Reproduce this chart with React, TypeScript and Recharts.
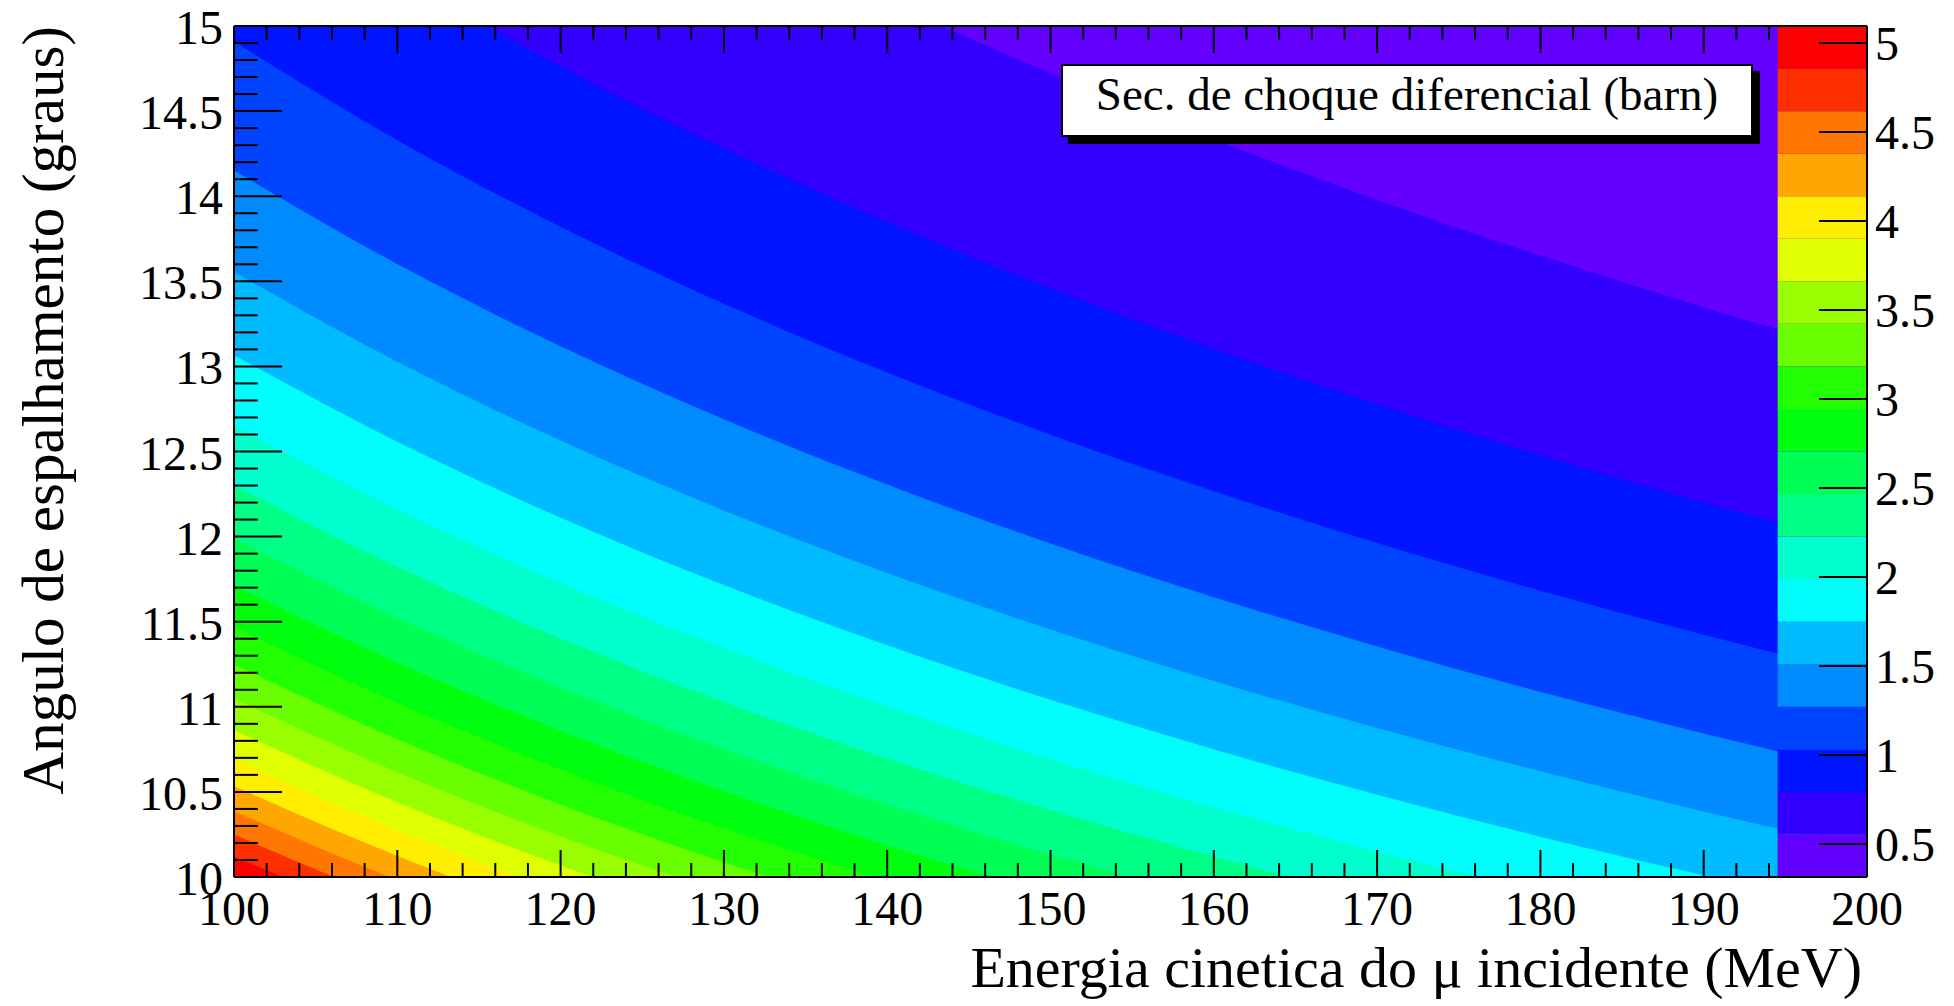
import React from "react";
import {
  ComposedChart,
  Area,
  XAxis,
  YAxis,
  CartesianGrid,
  ReferenceArea,
  Label,
} from "recharts";

// kinetic energy (MeV) where each contour line was read
const energies = [100, 110, 120, 130, 140, 150, 160, 170, 180, 190, 200];

// scattering angle (deg) of each contour boundary, lowest level first
const iso01 = [17.422, 16.744, 16.149, 15.621, 15.149, 14.722, 14.334, 13.978, 13.651, 13.348, 13.066];
const iso02 = [15.926, 15.306, 14.762, 14.28, 13.848, 13.457, 13.103, 12.777, 12.478, 12.201, 11.944];
const iso03 = [14.909, 14.329, 13.82, 13.368, 12.964, 12.599, 12.267, 11.962, 11.682, 11.423, 11.182];
const iso04 = [14.152, 13.601, 13.118, 12.689, 12.306, 11.959, 11.644, 11.355, 11.088, 10.843, 10.614];
const iso05 = [13.555, 13.027, 12.564, 12.154, 11.786, 11.454, 11.152, 10.875, 10.621, 10.385, 10.166];
const iso06 = [13.066, 12.557, 12.111, 11.715, 11.361, 11.041, 10.75, 10.483, 10.237, 10.01, 9.799];
const iso07 = [12.654, 12.161, 11.729, 11.346, 11.003, 10.693, 10.411, 10.152, 9.914, 9.695, 9.49];
const iso08 = [12.3, 11.821, 11.401, 11.028, 10.695, 10.393, 10.119, 9.868, 9.637, 9.423, 9.224];
const iso09 = [11.99, 11.523, 11.114, 10.751, 10.426, 10.132, 9.865, 9.62, 9.394, 9.186, 8.992];
const iso10 = [11.716, 11.26, 10.86, 10.505, 10.187, 9.9, 9.639, 9.4, 9.179, 8.976, 8.786];
const iso11 = [11.47, 11.024, 10.632, 10.285, 9.974, 9.692, 9.437, 9.203, 8.987, 8.788, 8.602];
const iso12 = [11.248, 10.81, 10.426, 10.086, 9.781, 9.505, 9.255, 9.025, 8.813, 8.618, 8.436];
const iso13 = [11.047, 10.616, 10.239, 9.905, 9.605, 9.335, 9.089, 8.863, 8.655, 8.463, 8.285];
const iso14 = [10.862, 10.439, 10.068, 9.739, 9.445, 9.178, 8.936, 8.715, 8.51, 8.322, 8.146];
const iso15 = [10.691, 10.275, 9.91, 9.586, 9.296, 9.034, 8.796, 8.578, 8.377, 8.191, 8.018];
const iso16 = [10.533, 10.123, 9.764, 9.445, 9.159, 8.901, 8.666, 8.451, 8.253, 8.07, 7.9];
const iso17 = [10.387, 9.982, 9.628, 9.313, 9.031, 8.777, 8.545, 8.333, 8.138, 7.958, 7.79];
const iso18 = [10.249, 9.85, 9.5, 9.19, 8.912, 8.661, 8.433, 8.223, 8.031, 7.853, 7.687];
const iso19 = [10.121, 9.727, 9.381, 9.075, 8.8, 8.552, 8.327, 8.12, 7.93, 7.754, 7.59];

const isolines = [
  iso01, iso02, iso03, iso04, iso05, iso06, iso07, iso08, iso09, iso10,
  iso11, iso12, iso13, iso14, iso15, iso16, iso17, iso18, iso19,
];

// palette: contour levels (barn) and colours of the 20 bands
const zLevels = [
  0.314, 0.553, 0.792, 1.031, 1.27, 1.509, 1.748, 1.988, 2.227, 2.466, 2.705,
  2.944, 3.183, 3.422, 3.661, 3.9, 4.139, 4.378, 4.617, 4.856, 5.0955,
];
const bandColors = [
  "#6300FF", "#3300FF", "#0014FF", "#0044FF", "#008BFF",
  "#00BBFF", "#00FFFC", "#00FFCC", "#00FF85", "#00FF55",
  "#00FF0E", "#22FF00", "#69FF00", "#99FF00", "#E0FF00",
  "#FFEE00", "#FFA700", "#FF7700", "#FF3000", "#FF0000",
];

const xMajorTicks = [100, 110, 120, 130, 140, 150, 160, 170, 180, 190, 200];
const yMajorTicks = [10, 10.5, 11, 11.5, 12, 12.5, 13, 13.5, 14, 14.5, 15];
const zTicks = [0.5, 1, 1.5, 2, 2.5, 3, 3.5, 4, 4.5, 5];

const paletteStart = 194.53;
const FONT = "'Liberation Serif', 'Times New Roman', serif";
const TICK_FONT = 48;

const xTicks = Array.from({ length: 51 }, (_, i) => xMajorTicks[0] + 2 * i);
const yTicks = Array.from({ length: 51 }, (_, i) => Math.round((yMajorTicks[0] + 0.1 * i) * 10) / 10);

const rows = energies.map((x, i) => {
  const row: Record<string, number> = { x };
  isolines.forEach((arr, k) => {
    row[`b${k + 1}`] = arr[i];
  });
  return row;
});

const isMajorY = (v: number) => Math.abs(v * 2 - Math.round(v * 2)) < 1e-6;

function BottomTick(props: any) {
  const { x, y, payload } = props;
  const v = payload.value as number;
  const major = v % 10 === 0;
  return (
    <g>
      {v < paletteStart && (
        <line x1={x} x2={x} y1={y} y2={y - (major ? 27 : 14)} stroke="#000" strokeWidth={2} />
      )}
      {major && (
        <text x={x} y={y + 48} textAnchor="middle" fontFamily={FONT} fontSize={TICK_FONT} fill="#000">
          {v}
        </text>
      )}
    </g>
  );
}

function TopTick(props: any) {
  const { x, y, payload } = props;
  const v = payload.value as number;
  const major = v % 10 === 0;
  if (v >= paletteStart) return <g />;
  return <line x1={x} x2={x} y1={y} y2={y + (major ? 27 : 14)} stroke="#000" strokeWidth={2} />;
}

function LeftTick(props: any) {
  const { x, y, payload } = props;
  const v = payload.value as number;
  const major = isMajorY(v);
  return (
    <g>
      <line x1={x} x2={x + (major ? 48 : 24)} y1={y} y2={y} stroke="#000" strokeWidth={2} />
      {major && (
        <text x={x - 11} y={y + 18} textAnchor="end" fontFamily={FONT} fontSize={TICK_FONT} fill="#000">
          {v}
        </text>
      )}
    </g>
  );
}

function RightTick(props: any) {
  const { x, y, payload } = props;
  return (
    <g>
      <line x1={x - 48} x2={x} y1={y} y2={y} stroke="#000" strokeWidth={2} />
      <text x={x + 8} y={y + 17} textAnchor="start" fontFamily={FONT} fontSize={TICK_FONT} fill="#000">
        {payload.value}
      </text>
    </g>
  );
}

function XTitle(props: any) {
  const vb = props.viewBox;
  return (
    <text x={vb.x + vb.width - 5} y={vb.y + 110} textAnchor="end" fontFamily={FONT} fontSize={58} fill="#000">
      Energia cinetica do μ incidente (MeV)
    </text>
  );
}

function YTitle(props: any) {
  const vb = props.viewBox;
  const tx = vb.x + 63;
  const ty = vb.y;
  return (
    <text
      x={tx}
      y={ty}
      transform={`rotate(-90, ${tx}, ${ty})`}
      textAnchor="end"
      fontFamily={FONT}
      fontSize={59}
      fill="#000"
    >
      Angulo de espalhamento (graus)
    </text>
  );
}

export default function App() {
  return (
    <div style={{ position: "absolute", left: 0, top: 0, width: 1954, height: 1006, background: "#fff" }}>
      <ComposedChart width={1954} height={1006} data={rows} margin={{ top: 0, right: 0, bottom: 0, left: 0 }}>
        <CartesianGrid xAxisId="b" yAxisId="a" fill={bandColors[0]} horizontal={false} vertical={false} />
        {isolines.map((_, k) => (
          <Area
            key={k}
            xAxisId="b"
            yAxisId="a"
            type="monotone"
            dataKey={`b${k + 1}`}
            baseValue={10}
            fill={bandColors[k + 1]}
            fillOpacity={1}
            stroke="none"
            isAnimationActive={false}
          />
        ))}
        {bandColors.map((c, i) => (
          <ReferenceArea
            key={`p${i}`}
            xAxisId="b"
            yAxisId="z"
            x1={paletteStart}
            x2={200}
            y1={zLevels[i]}
            y2={zLevels[i + 1]}
            fill={c}
            fillOpacity={1}
            stroke="none"
            ifOverflow="visible"
          />
        ))}
        <XAxis
          xAxisId="b"
          type="number"
          dataKey="x"
          domain={[100, 200]}
          ticks={xTicks}
          interval={0}
          allowDataOverflow
          height={129}
          tickSize={0}
          tickMargin={0}
          tickLine={false}
          axisLine={{ stroke: "#000", strokeWidth: 2 }}
          tick={BottomTick}
        >
          <Label content={XTitle} />
        </XAxis>
        <XAxis
          xAxisId="t"
          orientation="top"
          type="number"
          dataKey="x"
          domain={[100, 200]}
          ticks={xTicks}
          interval={0}
          allowDataOverflow
          height={26}
          tickSize={0}
          tickMargin={0}
          tickLine={false}
          axisLine={{ stroke: "#000", strokeWidth: 2 }}
          tick={TopTick}
        />
        <YAxis
          yAxisId="a"
          type="number"
          domain={[10, 15]}
          ticks={yTicks}
          interval={0}
          allowDataOverflow
          width={234}
          tickSize={0}
          tickMargin={0}
          tickLine={false}
          axisLine={{ stroke: "#000", strokeWidth: 2 }}
          tick={LeftTick}
        >
          <Label content={YTitle} />
        </YAxis>
        <YAxis
          yAxisId="z"
          orientation="right"
          type="number"
          domain={[zLevels[0], zLevels[zLevels.length - 1]]}
          ticks={zTicks}
          interval={0}
          allowDataOverflow
          width={87}
          tickSize={0}
          tickMargin={0}
          tickLine={false}
          axisLine={{ stroke: "#000", strokeWidth: 2 }}
          tick={RightTick}
        />
      </ComposedChart>
      <div
        style={{
          position: "absolute",
          left: 1061,
          top: 64,
          width: 692,
          height: 73,
          boxSizing: "border-box",
          border: "2px solid #000",
          background: "#fff",
          boxShadow: "7px 7px 0 #000",
          fontFamily: FONT,
          fontSize: 47,
          lineHeight: "57px",
          textAlign: "center",
          color: "#000",
          whiteSpace: "nowrap",
        }}
      >
        Sec. de choque diferencial (barn)
      </div>
    </div>
  );
}
